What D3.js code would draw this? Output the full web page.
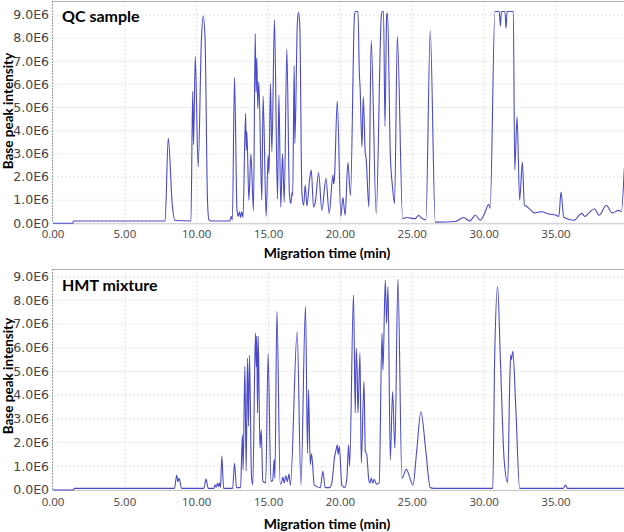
<!DOCTYPE html>
<html>
<head>
<style>
  body {
    margin: 0;
    background-color: #ffffff;
  }

  svg {
    display: block;
  }

  .tick-y {
    font-family: "DejaVu Sans", sans-serif;
    font-size: 12.5px;
    fill: #444;
  }

  .tick-x {
    font-family: "Open Sans", sans-serif;
    font-size: 11.5px;
    fill: #444;
  }

  .title {
    font-family: Lato, sans-serif;
    font-weight: bold;
    fill: #000;
  }
</style>
  <script src="https://d3js.org/d3.v7.min.js"></script>
</head>
<body>
<script>
// migration time (min) ticks and intensity ticks (in units of 1E6)
const xTicks = [0, 5, 10, 15, 20, 25, 30, 35];
const yTicks = [0, 1, 2, 3, 4, 5, 6, 7, 8, 9];

const panelTitles = ['QC sample', 'HMT mixture'];

// QC sample trace: [time (min), base peak intensity (E6)]
const qcTrace = [
  [0, 0], [1.38, 0], [1.42, 0.1], [7.8, 0.1], [8.02, 3.68], [8.3, 0.8], [8.5, 0.12],
  [9.6, 0.1], [9.72, 5.7], [9.78, 3.4], [9.9, 7.2], [10.1, 2.44], [10.33, 8.0],
  [10.45, 8.96], [10.58, 8.0], [10.75, 1.0], [10.85, 0.15], [11.0, 0.1],
  [12.3, 0.1], [12.4, 0.3], [12.48, 0.15], [12.63, 6.3], [12.8, 0.6], [12.88, 0.3],
  [12.97, 0.5], [13.05, 0.25], [13.13, 0.5], [13.22, 0.25], [13.4, 4.75], [13.45, 3.16],
  [13.49, 3.95], [13.63, 1.0], [13.77, 2.99], [13.95, 0.56], [14.07, 8.2], [14.13, 5.68],
  [14.18, 7.13], [14.25, 4.96], [14.32, 6.12], [14.53, 1.0], [14.62, 5.5], [14.83, 0.3],
  [14.97, 2.94], [15.03, 2.15], [15.13, 6.05], [15.23, 3.09], [15.41, 8.79], [15.62, 1.05],
  [15.72, 5.54], [15.85, 0.7], [15.97, 3.0], [16.09, 0.92], [16.27, 7.52], [16.45, 1.25],
  [16.55, 0.86], [16.64, 1.35], [16.68, 1.2], [16.78, 6.8], [16.83, 3.45], [17.0, 8.6],
  [17.08, 9.12], [17.17, 8.6], [17.32, 1.3], [17.44, 0.78], [17.55, 1.65], [17.67, 0.75],
  [17.85, 1.86], [17.97, 2.3], [18.13, 0.7], [18.25, 0.9], [18.48, 2.18], [18.71, 0.56],
  [18.99, 1.93], [19.22, 0.43], [19.48, 2.08], [19.52, 1.7], [19.58, 1.9], [19.78, 5.28],
  [20.03, 0.3], [20.17, 1.11], [20.33, 0.35], [20.52, 2.63], [20.7, 1.2], [20.98, 9.0],
  [21.05, 9.15], [21.22, 9.15], [21.32, 6.4], [21.36, 6.0], [21.5, 3.3], [21.59, 5.47],
  [21.73, 3.0], [21.78, 2.85], [21.98, 0.7], [22.14, 7.9], [22.49, 0.42], [22.85, 9.0],
  [22.92, 9.15], [23.0, 9.15], [23.1, 4.2], [23.22, 9.0], [23.28, 9.08], [23.47, 3.0],
  [23.62, 1.6], [23.77, 0.85], [23.96, 8.07], [24.33, 0.2], [24.6, 0.25], [25.2, 0.2],
  [25.45, 0.35], [25.6, 0.25], [25.95, 0.15], [26.25, 8.32], [26.6, 0.05], [28.0, 0.08],
  [28.57, 0.25], [29.0, 0.1], [29.39, 0.35], [29.73, 0.13], [30.08, 0.5], [30.31, 0.82],
  [30.42, 0.65], [30.75, 9.15], [31.05, 9.15], [31.13, 8.53], [31.2, 9.15], [31.45, 9.15],
  [31.52, 8.43], [31.6, 9.15], [32.03, 9.15], [32.13, 2.3], [32.29, 4.6], [32.47, 1.0],
  [32.66, 2.65], [32.8, 0.78], [32.9, 0.75], [33.2, 0.6], [33.5, 0.45], [34.0, 0.5],
  [34.5, 0.4], [35.0, 0.35], [35.2, 0.3], [35.35, 1.35], [35.54, 0.26], [36.24, 0.13],
  [36.8, 0.43], [37.0, 0.3], [37.3, 0.45], [37.67, 0.63], [38.0, 0.35], [38.5, 0.78],
  [38.9, 0.45], [39.37, 0.56], [39.55, 0.5], [39.75, 2.37]
];

// HMT mixture trace: [time (min), base peak intensity (E6)]
const hmtTrace = [
  [0, 0], [1.44, 0], [1.48, 0.07], [8.45, 0.07], [8.61, 0.63], [8.69, 0.35], [8.77, 0.49],
  [8.95, 0.07], [10.5, 0.07], [10.65, 0.46], [10.8, 0.07], [11.2, 0.07], [11.28, 0.22],
  [11.35, 0.12], [11.45, 0.28], [11.52, 0.15], [11.6, 0.3], [11.65, 0.1], [11.75, 1.43],
  [11.87, 0.07], [12.5, 0.07], [12.63, 1.13], [12.77, 0.1], [13.05, 0.1], [13.18, 2.33],
  [13.23, 0.86], [13.35, 5.22], [13.44, 0.8], [13.53, 5.57], [13.6, 2.69], [13.67, 5.68],
  [13.81, 0.6], [13.9, 0.22], [14.09, 6.62], [14.14, 5.2], [14.18, 6.5], [14.23, 3.25],
  [14.28, 6.48], [14.4, 1.77], [14.49, 2.54], [14.6, 0.37], [14.8, 0.3], [14.97, 5.74],
  [15.16, 0.37], [15.28, 0.4], [15.39, 1.28], [15.44, 0.5], [15.58, 7.54], [15.81, 0.25],
  [15.9, 0.3], [16.0, 0.55], [16.08, 0.3], [16.2, 0.6], [16.3, 0.35], [16.42, 0.67],
  [16.52, 0.2], [16.99, 6.67], [17.25, 0.22], [17.57, 7.75], [17.71, 1.56], [17.78, 4.23],
  [17.9, 1.07], [17.99, 1.53], [18.18, 0.22], [18.6, 0.1], [18.78, 0.79], [18.94, 0.1],
  [19.25, 0.1], [19.4, 0.3], [19.6, 1.42], [19.7, 1.7], [19.78, 1.91], [19.84, 1.5],
  [19.92, 1.84], [20.1, 0.2], [20.3, 0.1], [20.45, 0.5], [20.57, 1.91], [20.64, 1.0],
  [20.91, 8.24], [21.03, 3.25], [21.1, 5.99], [21.17, 4.87], [21.22, 3.25], [21.36, 5.78],
  [21.45, 1.14], [21.64, 4.59], [21.73, 1.63], [21.83, 1.5], [21.98, 0.4], [22.06, 0.3],
  [22.15, 0.5], [22.25, 0.3], [22.35, 0.45], [22.5, 0.25], [22.7, 0.3], [22.89, 6.61],
  [22.96, 5.06], [23.12, 8.86], [23.21, 7.03], [23.31, 8.58], [23.47, 1.27], [23.63, 4.15],
  [23.79, 1.76], [24.0, 8.89], [24.28, 0.49], [24.58, 0.87], [25.05, 0.21], [25.3, 1.6],
  [25.6, 3.3], [25.95, 1.6], [26.25, 0.1], [26.5, 0.07], [30.6, 0.07], [30.73, 5.5],
  [30.94, 8.58], [31.13, 5.5], [31.4, 1.2], [31.64, 0.31], [31.78, 4.5], [31.85, 5.7],
  [31.9, 5.5], [32.0, 5.85], [32.2, 3.5], [32.47, 0.07], [35.5, 0.07], [35.65, 0.21],
  [35.8, 0.07], [39.8, 0.07]
];

const width = 624;
const height = 532;

const svg = d3.select('body')
  .append('svg')
  .attr('width', width)
  .attr('height', height);

// both panels share the same time axis
const x = d3.scaleLinear()
  .domain([0, 39.8])
  .range([53, 53 + 39.8 * 503 / 35]);

const layouts = [
  { top: 1, zero: 223.3, nine: 15, titleY: 22, xLabelY: 238, xTitleY: 258, yTitleY: 111 },
  { top: 269, zero: 490, nine: 276.7, titleY: 291, xLabelY: 506, xTitleY: 529, yTitleY: 376 },
];

const drawPanel = (trace, title, layout, index) => {
  const perUnit = (layout.zero - layout.nine) / 9;
  const y = d3.scaleLinear()
    .domain([0, (layout.zero - layout.top) / perUnit])
    .range([layout.zero, layout.top]);

  const g = svg.append('g');
  const left = x.range()[0];
  const right = x.range()[1];

  // grid
  g.selectAll('.hgrid')
    .data(yTicks)
    .join('line')
    .attr('x1', left)
    .attr('x2', right)
    .attr('y1', d => y(d))
    .attr('y2', d => y(d))
    .attr('stroke', '#e2e2e2')
    .attr('stroke-dasharray', '2,2');

  g.selectAll('.vgrid')
    .data(xTicks.slice(1))
    .join('line')
    .attr('x1', d => x(d))
    .attr('x2', d => x(d))
    .attr('y1', layout.top)
    .attr('y2', layout.zero)
    .attr('stroke', '#e2e2e2')
    .attr('stroke-dasharray', '2,2');

  // frame
  g.append('line')
    .attr('x1', left).attr('x2', right)
    .attr('y1', layout.top + 0.5).attr('y2', layout.top + 0.5)
    .attr('stroke', '#b0b0b0');
  g.append('line')
    .attr('x1', left).attr('x2', right)
    .attr('y1', layout.zero + 0.5).attr('y2', layout.zero + 0.5)
    .attr('stroke', '#c8c8c8');
  g.append('line')
    .attr('x1', left - 0.5).attr('x2', left - 0.5)
    .attr('y1', layout.top).attr('y2', layout.zero)
    .attr('stroke', '#999')
    .attr('stroke-dasharray', '2,1');

  // tick labels
  g.selectAll('.tick-y')
    .data(yTicks)
    .join('text')
    .attr('class', 'tick-y')
    .attr('x', 49)
    .attr('y', d => y(d))
    .attr('dy', '0.34em')
    .attr('text-anchor', 'end')
    .text(d => d === 0 ? '0.0E0' : `${d.toFixed(1)}E6`);

  g.selectAll('.tick-x')
    .data(xTicks)
    .join('text')
    .attr('class', 'tick-x')
    .attr('x', d => x(d))
    .attr('y', layout.xLabelY)
    .attr('text-anchor', 'middle')
    .text(d => d.toFixed(2));

  // clip the trace to the plot area
  const clipId = `clip${index}`;
  svg.append('clipPath')
    .attr('id', clipId)
    .append('rect')
    .attr('x', left)
    .attr('y', layout.top)
    .attr('width', right - left)
    .attr('height', layout.zero - layout.top + 1);

  const line = d3.line()
    .x(d => x(d[0]))
    .y(d => y(d[1]))
    .curve(d3.curveMonotoneX);

  g.append('path')
    .datum(trace)
    .attr('clip-path', `url(#${clipId})`)
    .attr('fill', 'none')
    .attr('stroke', '#4a4ac8')
    .attr('stroke-width', 1.1)
    .attr('d', line);

  // titles
  g.append('text')
    .attr('class', 'title')
    .attr('x', 62)
    .attr('y', layout.titleY)
    .attr('font-size', '16px')
    .text(title);

  g.append('text')
    .attr('class', 'title')
    .attr('x', 327)
    .attr('y', layout.xTitleY)
    .attr('text-anchor', 'middle')
    .attr('font-size', '14px')
    .text('Migration time (min)');

  g.append('text')
    .attr('class', 'title')
    .attr('transform', `translate(13,${layout.yTitleY}) rotate(-90)`)
    .attr('text-anchor', 'middle')
    .attr('font-size', '13.5px')
    .text('Base peak intensity');
};

drawPanel(qcTrace, panelTitles[0], layouts[0], 0);
drawPanel(hmtTrace, panelTitles[1], layouts[1], 1);
</script>
</body>
</html>
